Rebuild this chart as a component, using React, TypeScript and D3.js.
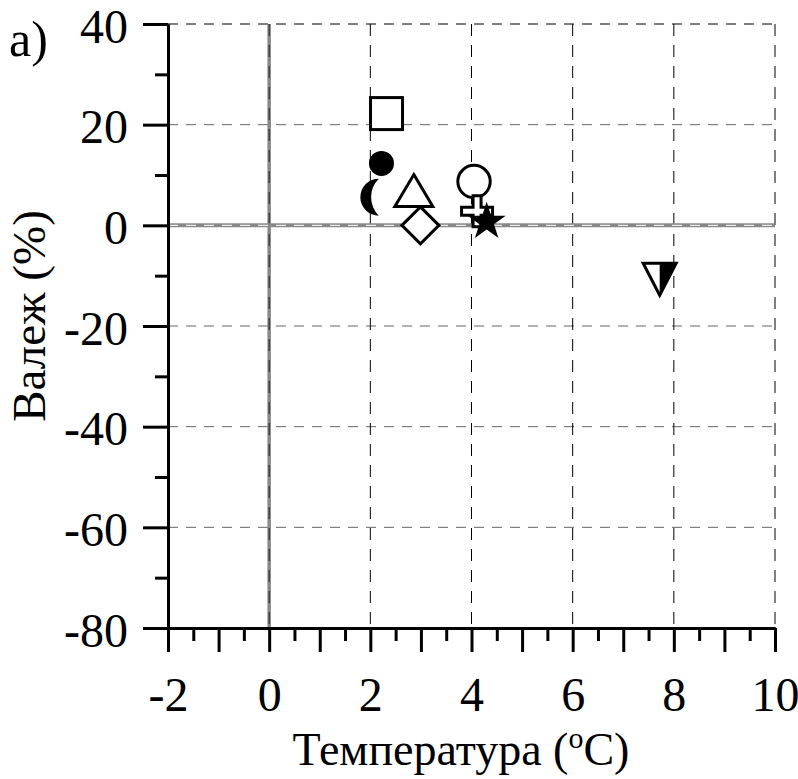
import { useEffect, useRef } from "react";
import * as d3 from "d3";

// Readings: temperature (°C) vs. precipitation change (%)
const temps = [2.32, 2.22, 1.99, 2.86, 2.99, 4.05, 4.11, 4.3, 7.72];
const valezh = [22.2, 12.3, 5.6, 6.9, 0.0, 8.7, 2.8, 0.7, -10.7];
const markerKinds = [
    "square",
    "dot",
    "crescent",
    "triangleUp",
    "diamond",
    "circle",
    "plus",
    "star",
    "triangleDownHalf",
];

const xMajor = d3.range(-2, 10.01, 1);
const xMinor = d3.range(-1.5, 10, 1);
const yMajor = d3.range(-80, 40.01, 20);
const yMinor = d3.range(-70, 40, 20);
const xLabelled = [-2, 0, 2, 4, 6, 8, 10];
const xGrid = [2, 4, 6, 8, 10];
const yGrid = [40, 20, -20, -40, -60];

function starPath(R: number) {
    const r = R * 0.382;
    const pts: [number, number][] = [];
    for (let i = 0; i < 10; i++) {
        const a = -Math.PI / 2 + (i * Math.PI) / 5;
        const rad = i % 2 === 0 ? R : r;
        pts.push([rad * Math.cos(a), rad * Math.sin(a)]);
    }
    return "M" + pts.map(p => p.join(",")).join("L") + "Z";
}

export default function App() {
    const svgRef = useRef<SVGSVGElement | null>(null);

    useEffect(() => {
        const width = 798;
        const height = 779;
        const left = 168, right = 775, top = 24, bottom = 628;
        const font = "Liberation Serif";

        const x = d3.scaleLinear().domain([-2, 10]).range([left, right]);
        const y = d3.scaleLinear().domain([-80, 40]).range([bottom, top]);

        const svg = d3.select(svgRef.current)
            .attr("width", width)
            .attr("height", height)
            .attr("viewBox", `0 0 ${width} ${height}`)
            .attr("font-family", font);
        svg.selectAll("*").remove();
        svg.append("rect").attr("width", width).attr("height", height).attr("fill", "#fff");

        // grid
        const grid = svg.append("g");
        grid.selectAll(".hg")
            .data(yGrid)
            .enter()
            .append("line")
            .attr("x1", left).attr("x2", right)
            .attr("y1", d => y(d)).attr("y2", d => y(d))
            .attr("stroke", d => (d === 40 ? "#000" : "#666"))
            .attr("stroke-width", 1)
            .attr("stroke-dasharray", "10,8");
        grid.selectAll(".vg")
            .data(xGrid)
            .enter()
            .append("line")
            .attr("x1", d => x(d)).attr("x2", d => x(d))
            .attr("y1", top).attr("y2", bottom)
            .attr("stroke", "#000")
            .attr("stroke-width", 1)
            .attr("stroke-dasharray", "12,9");

        // zero lines
        grid.append("line")
            .attr("x1", x(0)).attr("x2", x(0)).attr("y1", top).attr("y2", bottom)
            .attr("stroke", "#888").attr("stroke-width", 3.5);
        grid.append("line")
            .attr("x1", x(0)).attr("x2", x(0)).attr("y1", top).attr("y2", bottom)
            .attr("stroke", "#222").attr("stroke-width", 1).attr("stroke-dasharray", "12,9");
        grid.append("line")
            .attr("x1", left).attr("x2", right).attr("y1", y(0)).attr("y2", y(0))
            .attr("stroke", "#888").attr("stroke-width", 4);
        grid.append("line")
            .attr("x1", left).attr("x2", right).attr("y1", y(0)).attr("y2", y(0))
            .attr("stroke", "#fff").attr("stroke-width", 1).attr("stroke-dasharray", "10,8");

        // axes
        const fmt = (d: d3.NumberValue) => {
            const v = Math.round(+d);
            return xLabelled.includes(v) ? String(v) : "";
        };
        const xAxisMinor = d3.axisBottom(x).tickValues(xMinor).tickSize(13).tickSizeOuter(0).tickFormat(() => "");
        const xAxisMajor = d3.axisBottom(x).tickValues(xMajor).tickSize(24).tickSizeOuter(0).tickFormat(fmt);
        const yAxisMinor = d3.axisLeft(y).tickValues(yMinor).tickSize(13).tickSizeOuter(0).tickFormat(() => "");
        const yAxisMajor = d3.axisLeft(y).tickValues(yMajor).tickSize(25).tickSizeOuter(0)
            .tickFormat(d => String(d));

        const styleAxis = (g: d3.Selection<SVGGElement, unknown, null, undefined>) => {
            g.attr("font-family", font).attr("font-size", 48);
            g.selectAll("line").attr("stroke", "#000").attr("stroke-width", 3);
            g.selectAll(".domain").attr("stroke", "#000").attr("stroke-width", 3);
            g.selectAll("text").attr("fill", "#000");
        };

        svg.append("g").attr("transform", `translate(0,${bottom})`).call(xAxisMinor).call(styleAxis);
        const gx = svg.append("g").attr("transform", `translate(0,${bottom})`).call(xAxisMajor).call(styleAxis);
        gx.selectAll("text").attr("y", 49).attr("dy", "0.71em");

        svg.append("g").attr("transform", `translate(${left},0)`).call(yAxisMinor).call(styleAxis);
        const gy = svg.append("g").attr("transform", `translate(${left},0)`).call(yAxisMajor).call(styleAxis);
        gy.selectAll("text").attr("x", -40).attr("dy", "0.38em");

        // axis titles
        const xt = svg.append("text")
            .attr("x", 461).attr("y", 765)
            .attr("text-anchor", "middle")
            .attr("font-size", 46);
        xt.append("tspan").text("Температура (");
        xt.append("tspan").attr("font-size", 30).attr("dy", -17).text("o");
        xt.append("tspan").attr("dy", 17).text("C)");

        svg.append("text")
            .attr("transform", `translate(45,316) rotate(-90)`)
            .attr("text-anchor", "middle")
            .attr("font-size", 47)
            .text("Валеж (%)");

        svg.append("text")
            .attr("x", 9).attr("y", 56)
            .attr("font-size", 50)
            .text("a)");

        // markers
        const sw = 3;
        const pts = svg.append("g");
        markerKinds.forEach((kind, i) => {
            const g = pts.append("g").attr("transform", `translate(${x(temps[i])},${y(valezh[i])})`);
            if (kind === "square") {
                g.append("rect").attr("x", -16).attr("y", -16).attr("width", 32).attr("height", 32)
                    .attr("fill", "#fff").attr("stroke", "#000").attr("stroke-width", sw);
            } else if (kind === "dot") {
                g.append("circle").attr("r", 12.5).attr("fill", "#000");
            } else if (kind === "crescent") {
                g.append("path")
                    .attr("d", "M9,-18.5 A18.5,18.5 0 0 0 9,18.5 A26,26 0 0 1 9,-18.5 Z")
                    .attr("fill", "#000");
            } else if (kind === "triangleUp") {
                g.append("path").attr("d", "M0,-16 L19,16 L-19,16 Z")
                    .attr("fill", "#fff").attr("stroke", "#000").attr("stroke-width", sw);
            } else if (kind === "diamond") {
                g.append("path").attr("d", "M0,-18.5 L18.5,0 L0,18.5 L-18.5,0 Z")
                    .attr("fill", "#fff").attr("stroke", "#000").attr("stroke-width", sw);
            } else if (kind === "circle") {
                g.append("circle").attr("r", 16.2)
                    .attr("fill", "#fff").attr("stroke", "#000").attr("stroke-width", sw);
            } else if (kind === "plus") {
                g.append("path")
                    .attr("d", "M-4,-15.5 L4,-15.5 L4,-4 L15.5,-4 L15.5,4 L4,4 L4,15.5 L-4,15.5 L-4,4 L-15.5,4 L-15.5,-4 L-4,-4 Z")
                    .attr("fill", "#fff").attr("stroke", "#000").attr("stroke-width", sw);
            } else if (kind === "star") {
                g.append("path").attr("d", starPath(20)).attr("fill", "#000");
            } else if (kind === "triangleDownHalf") {
                g.append("path").attr("d", "M0,-16 L16.5,-16 L0,16 Z").attr("fill", "#000");
                g.append("path").attr("d", "M-16.5,-16 L16.5,-16 L0,16 Z")
                    .attr("fill", "none").attr("stroke", "#000").attr("stroke-width", sw);
            }
        });
    }, []);

    return (
        <svg ref={svgRef} style={{ position: "absolute", left: 0, top: 0, display: "block" }} />
    );
}
